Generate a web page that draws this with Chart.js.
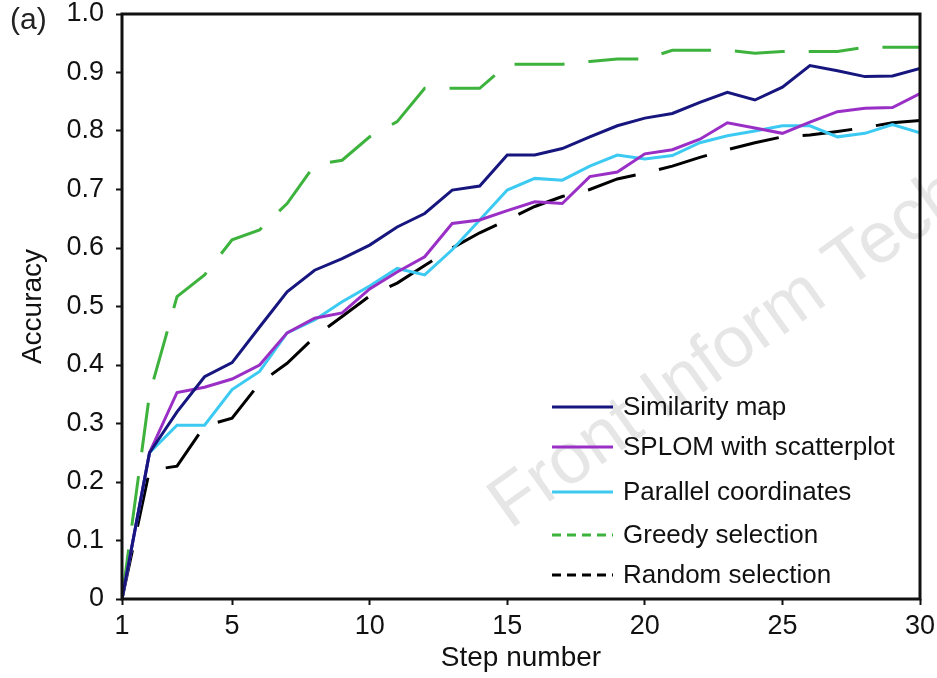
<!DOCTYPE html>
<html>
<head>
<meta charset="utf-8">
<script src="https://cdn.jsdelivr.net/npm/chart.js@4/dist/chart.umd.min.js"></script>
<style>
  html, body { margin: 0; padding: 0; background: #fff; }
  canvas { display: block; }
</style>
</head>
<body>
<canvas id="accChart" width="937" height="678"></canvas>
<script>
// === data ===
const steps = [1,2,3,4,5,6,7,8,9,10,11,12,13,14,15,16,17,18,19,20,21,22,23,24,25,26,27,28,29,30];
const xTickValues = [1,5,10,15,20,25,30];

const similarityMap = [0,0.25,0.32,0.38,0.404,0.465,0.525,0.562,0.582,0.605,0.636,0.659,0.699,0.706,0.759,
  0.759,0.770,0.790,0.809,0.822,0.830,0.849,0.866,0.853,0.875,0.912,0.903,0.893,0.894,0.907];
const splomScatter = [0,0.25,0.353,0.362,0.376,0.40,0.455,0.48,0.489,0.53,0.559,0.585,0.642,0.648,0.664,
  0.679,0.676,0.722,0.730,0.761,0.768,0.786,0.814,0.805,0.796,0.815,0.833,0.839,0.840,0.864];
const parallelCoords = [0,0.25,0.297,0.297,0.358,0.389,0.455,0.477,0.508,0.535,0.565,0.554,0.597,0.648,0.699,
  0.719,0.716,0.740,0.759,0.752,0.758,0.780,0.792,0.800,0.809,0.809,0.790,0.796,0.811,0.797];
const greedySel = [0,0.35,0.517,0.554,0.614,0.631,0.676,0.742,0.750,0.790,0.816,0.873,0.873,0.873,0.914,
  0.914,0.914,0.919,0.923,0.923,0.938,0.938,0.938,0.933,0.936,0.936,0.936,0.943,0.943,0.943];
const randomSel = [0,0.22,0.227,0.296,0.309,0.369,0.403,0.448,0.483,0.518,0.540,0.570,0.600,0.626,0.648,
  0.671,0.688,0.700,0.718,0.728,0.740,0.755,0.768,0.780,0.790,0.793,0.799,0.806,0.814,0.818];

const seriesNames = ['Similarity map','SPLOM with scatterplot','Parallel coordinates','Greedy selection','Random selection'];

Chart.defaults.font.family = "'Liberation Sans', Arial, sans-serif";
Chart.defaults.color = '#111';

const toPts = arr => arr.map((v, i) => ({x: steps[i], y: v}));

function mkSet(label, data, color, dash) {
  return {
    label, data: toPts(data),
    borderColor: color, backgroundColor: color,
    borderWidth: 3, borderDash: dash || [], borderCapStyle: 'butt',
    pointRadius: 0, tension: 0, fill: false,
    legendDash: dash ? [9, 6] : []
  };
}

// legend drawn inside plot, lower right
const insideLegend = {
  id: 'insideLegend',
  afterDatasetsDraw(chart) {
    const c = chart.ctx;
    const rows = [407, 447, 492, 535, 575];
    c.save();
    c.font = "26px 'Liberation Sans', Arial, sans-serif";
    c.textBaseline = 'middle';
    c.fillStyle = '#111';
    chart.data.datasets.forEach((ds, i) => {
      const y = rows[i];
      c.beginPath();
      c.setLineDash(ds.legendDash);
      c.lineWidth = 3;
      c.strokeStyle = ds.borderColor;
      c.moveTo(552, y); c.lineTo(613, y);
      c.stroke();
      c.fillText(ds.label, 623, y + 1);
    });
    c.restore();
  }
};

// frame, panel tag and watermark
const decor = {
  id: 'decor',
  beforeDatasetsDraw(chart) {
    const c = chart.ctx;
    c.save();
    c.translate(510, 530);
    c.rotate(-35.5 * Math.PI / 180);
    c.font = "72px 'Liberation Sans', Arial, sans-serif";
    c.fillStyle = '#e6e6e6';
    c.textBaseline = 'alphabetic';
    c.fillText('Front Inform Tech', 0, 0);
    c.restore();
  },
  afterDraw(chart) {
    const c = chart.ctx, a = chart.chartArea;
    c.save();
    c.lineWidth = 3;
    c.strokeStyle = '#111';
    c.strokeRect(a.left, a.top, a.right - a.left, a.bottom - a.top);
    c.font = "30px 'Liberation Sans', Arial, sans-serif";
    c.fillStyle = '#222';
    c.textBaseline = 'middle';
    c.fillText('(a)', 10, 21);
    c.restore();
  }
};

new Chart(document.getElementById('accChart'), {
  type: 'line',
  data: {
    datasets: [
      mkSet(seriesNames[0], similarityMap, '#16167e'),
      mkSet(seriesNames[1], splomScatter, '#9a2fc6'),
      mkSet(seriesNames[2], parallelCoords, '#3ccaf2'),
      mkSet(seriesNames[3], greedySel, '#3db33d', [50, 24]),
      mkSet(seriesNames[4], randomSel, '#000000', [50, 24])
    ]
  },
  options: {
    responsive: false,
    animation: false,
    layout: { padding: { top: 0, right: 0, left: 0, bottom: 0 } },
    plugins: { legend: { display: false }, tooltip: { enabled: false } },
    scales: {
      x: {
        type: 'linear', min: 1, max: 30,
        afterBuildTicks: s => { s.ticks = xTickValues.map(v => ({value: v})); },
        afterFit: s => { s.height = 79; s.paddingRight = 17; },
        border: { display: false },
        grid: { display: true, drawOnChartArea: false, drawTicks: true, tickLength: 6, tickWidth: 2, tickColor: '#111' },
        ticks: { font: { size: 27 }, padding: 5, maxRotation: 0, autoSkip: false, color: '#111' },
        title: { display: true, text: 'Step number', font: { size: 28 }, padding: { top: 0, bottom: 3 }, color: '#111' }
      },
      y: {
        min: 0, max: 1,
        afterFit: s => { s.width = 122; s.paddingTop = 14; s.paddingBottom = 0; },
        border: { display: false },
        grid: { display: true, drawOnChartArea: false, drawTicks: true, tickLength: 6, tickWidth: 2, tickColor: '#111' },
        ticks: {
          stepSize: 0.1, font: { size: 27 }, padding: 12, color: '#111',
          callback: v => (v === 0 ? '0' : v.toFixed(1))
        },
        title: { display: true, text: 'Accuracy', font: { size: 28 }, padding: { top: 16, bottom: 0 }, color: '#111' }
      }
    }
  },
  plugins: [decor, insideLegend]
});
</script>
</body>
</html>
